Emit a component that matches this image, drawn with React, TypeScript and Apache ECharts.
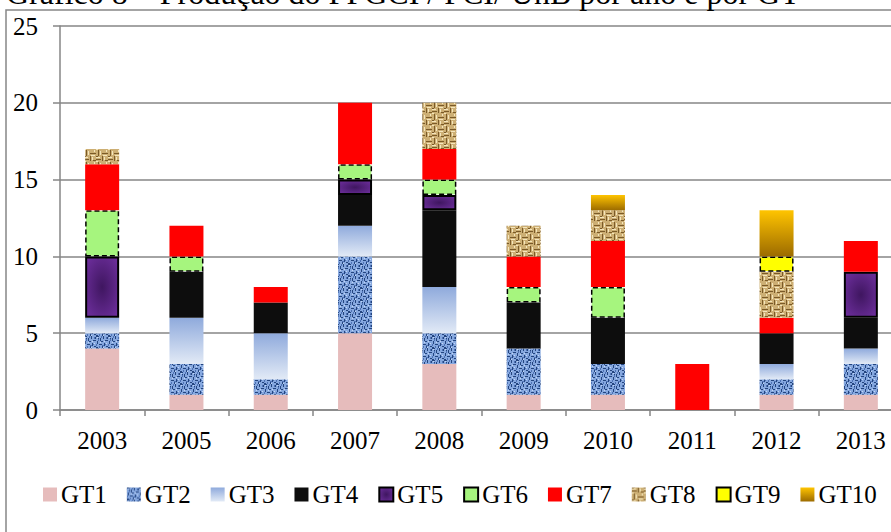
import React, { useEffect, useRef } from "react";
import * as echarts from "echarts";

const categories = ["2003", "2005", "2006", "2007", "2008", "2009", "2010", "2011", "2012", "2013"];
const seriesNames = ["GT1", "GT2", "GT3", "GT4", "GT5", "GT6", "GT7", "GT8", "GT9", "GT10"];
const gt1 = [4, 1, 1, 5, 3, 1, 1, 0, 1, 1];
const gt2 = [1, 2, 1, 5, 2, 3, 2, 0, 1, 2];
const gt3 = [1, 3, 3, 2, 3, 0, 0, 0, 1, 1];
const gt4 = [0, 3, 2, 2, 5, 3, 3, 0, 2, 2];
const gt5 = [4, 0, 0, 1, 1, 0, 0, 0, 0, 3];
const gt6 = [3, 1, 0, 1, 1, 1, 2, 0, 0, 0];
const gt7 = [3, 2, 1, 4, 2, 2, 3, 3, 1, 2];
const gt8 = [1, 0, 0, 0, 3, 2, 2, 0, 3, 0];
const gt9 = [0, 0, 0, 0, 0, 0, 0, 0, 1, 0];
const gt10 = [0, 0, 0, 0, 0, 0, 1, 0, 3, 0];
const yTicks = [0, 5, 10, 15, 20, 25];
const titleText = "Gráfico 8 – Produção do PPGCI / PCI/ UnB por ano e por GT";

const FONT = "'Liberation Serif', 'Times New Roman', serif";

function makePattern(kind: "blue" | "tan") {
  const size = 12;
  const c = document.createElement("canvas");
  c.width = size;
  c.height = size;
  const ctx = c.getContext("2d")!;
  if (kind === "blue") {
    ctx.fillStyle = "#86A8DF";
    ctx.fillRect(0, 0, size, size);
    ctx.fillStyle = "#24457F";
    const cells = [[0,0,3,1],[4,2,1,3],[7,0,1,3],[9,4,3,1],[1,5,1,3],[3,8,3,1],[8,7,1,3],[10,10,2,1],[0,11,2,1],[5,5,2,1],[2,2,1,1],[11,1,1,2],[6,10,1,2]];
    cells.forEach(([x, y, w, h]) => ctx.fillRect(x, y, w, h));
    ctx.fillStyle = "#4E72B5";
    const cells2 = [[2,3,1,2],[6,9,2,1],[10,1,1,2],[3,10,1,2],[9,8,1,1],[5,0,1,2],[0,8,1,2]];
    cells2.forEach(([x, y, w, h]) => ctx.fillRect(x, y, w, h));
    ctx.fillStyle = "#C3D6F4";
    const cells3 = [[1,1,1,1],[8,5,1,1],[4,6,1,1],[10,7,1,1],[7,11,1,1]];
    cells3.forEach(([x, y, w, h]) => ctx.fillRect(x, y, w, h));
  } else {
    ctx.fillStyle = "#CDAF74";
    ctx.fillRect(0, 0, size, size);
    ctx.fillStyle = "#7A5A28";
    const cells = [[0,3,5,1],[6,0,1,5],[6,9,6,1],[2,6,1,6],[9,4,3,1],[0,0,2,1]];
    cells.forEach(([x, y, w, h]) => ctx.fillRect(x, y, w, h));
    ctx.fillStyle = "#F4E6BE";
    const cells2 = [[0,1,4,1],[8,1,1,3],[4,7,1,4],[7,11,4,1],[10,6,1,2],[0,5,2,1]];
    cells2.forEach(([x, y, w, h]) => ctx.fillRect(x, y, w, h));
  }
  return { image: c.toDataURL(), repeat: "repeat", imageWidth: size, imageHeight: size } as any;
}

export default function App() {
  const ref = useRef<HTMLDivElement>(null);
  useEffect(() => {
    if (!ref.current) return;
    const chart = echarts.init(ref.current, null, { renderer: "svg" });
    const blue = makePattern("blue");
    const tan = makePattern("tan");
    const values = [gt1, gt2, gt3, gt4, gt5, gt6, gt7, gt8, gt9, gt10];
    const styles: any[] = [
      { color: "#E6BCBC" },
      { color: blue },
      { color: new echarts.graphic.LinearGradient(0, 0, 0, 1, [{ offset: 0, color: "#8FAADC" }, { offset: 1, color: "#E2EAF6" }]) },
      { color: "#0D0D0D" },
      { color: new echarts.graphic.RadialGradient(0.5, 0.5, 0.7, [{ offset: 0, color: "#3F1660" }, { offset: 1, color: "#7030A0" }]), borderColor: "#000", borderWidth: 2 },
      { color: "#A6F57E", borderColor: "#000", borderWidth: 1.5, borderType: [5, 3] },
      { color: "#FF0000" },
      { color: tan },
      { color: "#FFFF00", borderColor: "#000", borderWidth: 1.5, borderType: [5, 3] },
      { color: new echarts.graphic.LinearGradient(0, 0, 0, 1, [{ offset: 0, color: "#FFC400" }, { offset: 1, color: "#9C6B00" }]) },
    ];
    const series = seriesNames.map((name, i) => ({
      name,
      type: "bar",
      stack: "total",
      barWidth: 34,
      itemStyle: styles[i],
      data: values[i].map((v) => (v === 0 ? "-" : v)),
    }));
    chart.setOption({
      animation: false,
      textStyle: { fontFamily: FONT },
      graphic: [
        {
          type: "rect",
          shape: { x: 6, y: 10, width: 1200, height: 1200 },
          style: { fill: "none", stroke: "#868686", lineWidth: 1.5 },
          z: -10,
        },
        {
          type: "text",
          x: 6,
          y: 9,
          style: { text: titleText, font: `32px ${FONT}`, fill: "#000", textVerticalAlign: "bottom" },
        },
      ],
      grid: { left: 60, top: 26, right: 0, bottom: 122, containLabel: false },
      legend: {
        data: seriesNames,
        left: 38,
        top: 477,
        icon: "rect",
        itemWidth: 14,
        itemHeight: 14,
        itemGap: 20,
        textStyle: { fontFamily: FONT, fontSize: 25, color: "#000", padding: [0, 0, 0, -1] },
      },
      xAxis: {
        type: "category",
        data: categories,
        axisLine: { lineStyle: { color: "#868686", width: 1.5 } },
        axisTick: { show: true, length: 6, lineStyle: { color: "#868686", width: 1.5 } },
        axisLabel: { color: "#000", fontSize: 25, fontFamily: FONT, margin: 18 },
      },
      yAxis: {
        type: "value",
        min: yTicks[0],
        max: yTicks[yTicks.length - 1],
        interval: 5,
        axisLine: { show: true, lineStyle: { color: "#868686", width: 1.5 } },
        axisTick: { show: true, length: 7, lineStyle: { color: "#868686", width: 1.5 } },
        splitLine: { lineStyle: { color: "#868686", width: 1.5 } },
        axisLabel: { color: "#000", fontSize: 25, fontFamily: FONT, margin: 22 },
      },
      series,
    });
    return () => chart.dispose();
  }, []);
  return (
    <div style={{ width: 891, height: 532, position: "absolute", left: 0, top: 0, overflow: "hidden" }}>
      <div ref={ref} style={{ width: 903, height: 532 }} />
    </div>
  );
}
